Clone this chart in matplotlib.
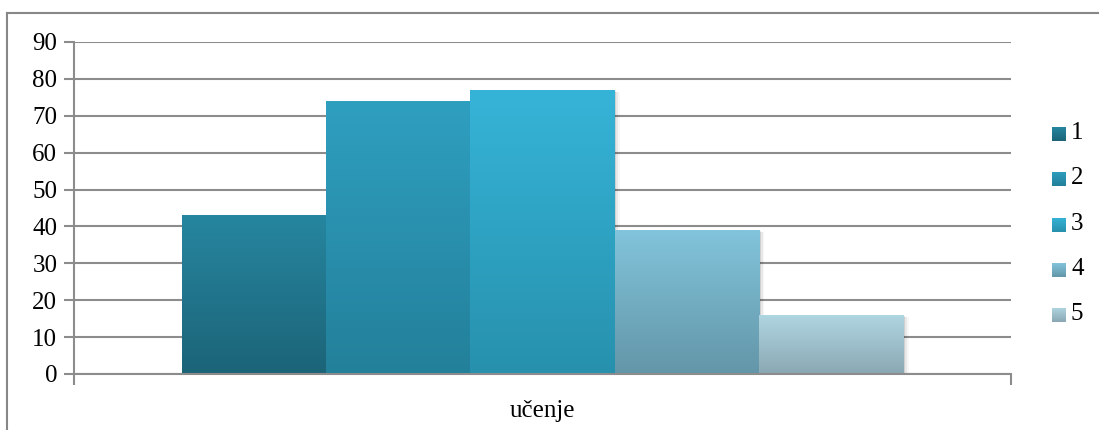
import numpy as np
import matplotlib
matplotlib.use("Agg")
import matplotlib.pyplot as plt
from matplotlib.patches import Rectangle
from matplotlib.lines import Line2D

# data
category = "učenje"
series_names = ["1", "2", "3", "4", "5"]
values = [43, 74, 77, 39, 16]
y_ticks = [0, 10, 20, 30, 40, 50, 60, 70, 80, 90]

# gradient colours per series (top, bottom)
top_colors = ["#26869f", "#2f9fc0", "#36b4d8", "#82c4db", "#b0d6e2"]
bottom_colors = ["#1c6478", "#23809a", "#2791ad", "#6396a8", "#8aa8b3"]

plt.rcParams["font.family"] = "serif"
plt.rcParams["font.serif"] = ["Liberation Serif", "DejaVu Serif"]

W, H = 1099, 430
fig = plt.figure(figsize=(W / 100, H / 100), dpi=100)


def gradient(c_top, c_bot, n=128):
    c1 = np.array(matplotlib.colors.to_rgb(c_top))
    c2 = np.array(matplotlib.colors.to_rgb(c_bot))
    t = np.linspace(0, 1, n)[:, None]
    return (c1 * (1 - t) + c2 * t)[:, None, :]


# outer chart frame
frame_col = "#878787"
fig.add_artist(Line2D([7 / W, 7 / W], [0, 1 - 13 / H], transform=fig.transFigure,
                      color=frame_col, lw=1.5))
fig.add_artist(Line2D([7 / W, 1], [1 - 13 / H, 1 - 13 / H], transform=fig.transFigure,
                      color=frame_col, lw=1.5))

ax = fig.add_axes([74 / W, (H - 374) / H, (1011 - 74) / W, (374 - 42) / H])

group_w = 721 / 937
bar_w = group_w / len(values)
x0 = -group_w / 2

grid_col = "#8c8c8c"
for t in y_ticks:
    ax.axhline(t, color=grid_col, lw=1.5, zorder=1)

for i, v in enumerate(values):
    left = x0 + i * bar_w
    # soft shadow
    for k, a in enumerate([0.10, 0.06, 0.03]):
        off = 0.002 * (k + 1)
        ax.add_patch(Rectangle((left + off, -0.3 - 0.15 * k), bar_w, v, color="black",
                               alpha=a, lw=0, zorder=2))
    rect = Rectangle((left, 0), bar_w, v, facecolor="none", lw=0, zorder=3)
    ax.add_patch(rect)
    im = ax.imshow(gradient(top_colors[i], bottom_colors[i]),
                   extent=[left, left + bar_w, 0, v], aspect="auto",
                   origin="upper", zorder=3, interpolation="bilinear")
    im.set_clip_path(rect)

ax.set_xlim(-0.5, 0.5)
ax.set_ylim(0, 90)
ax.set_yticks(y_ticks)
ax.set_yticklabels([str(t) for t in y_ticks], fontsize=18)
ax.set_xticks([-0.5, 0.5])
ax.set_xticklabels(["", ""])
ax.tick_params(axis="y", length=7, width=1.5, color=grid_col, pad=5)
ax.tick_params(axis="x", length=8, width=1.5, color=grid_col)
for s in ["top", "right"]:
    ax.spines[s].set_visible(False)
ax.spines["left"].set_color(grid_col)
ax.spines["left"].set_linewidth(1.5)
ax.spines["bottom"].set_color(grid_col)
ax.spines["bottom"].set_linewidth(1.5)
ax.spines["bottom"].set_zorder(4)

ax.text(0, -10, category, ha="center", va="center", fontsize=18)

# legend
for i, name in enumerate(series_names):
    yc = 134 + i * 45.3
    lax = fig.add_axes([1052 / W, 1 - (yc + 7) / H, 14 / W, 14 / H])
    lax.imshow(gradient(top_colors[i], bottom_colors[i], 32), aspect="auto",
               interpolation="bilinear")
    lax.axis("off")
    fig.text(1071 / W, 1 - (yc - 1) / H, name, ha="left", va="center", fontsize=18)

fig.savefig("out.png", dpi=100)
